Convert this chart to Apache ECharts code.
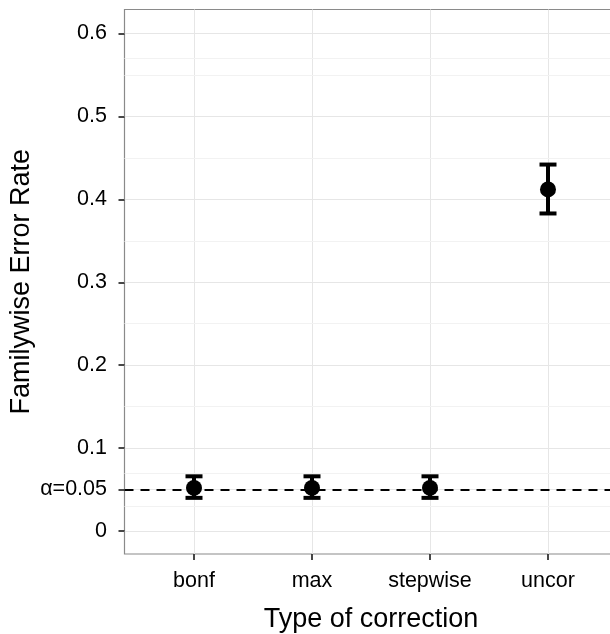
<!DOCTYPE html>
<html><head><meta charset="utf-8">
<script src="https://cdn.jsdelivr.net/npm/echarts@6/dist/echarts.min.js"></script>
<style>html,body{margin:0;padding:0;background:#fff}#c{width:610px;height:634px}</style>
</head><body><div id="c"></div>
<script>
const categories = ['bonf', 'max', 'stepwise', 'uncor'];
const rateMean  = [0.052, 0.052, 0.052, 0.412];
const rateLower = [0.040, 0.040, 0.040, 0.383];
const rateUpper = [0.066, 0.066, 0.066, 0.442];
const alphaLevel = 0.05;
const yTickValues = [0, 0.05, 0.1, 0.2, 0.3, 0.4, 0.5, 0.6];
const yTickLabels = ['0', 'α=0.05', '0.1', '0.2', '0.3', '0.4', '0.5', '0.6'];
const yMinorGrid = [0.025, 0.075, 0.15, 0.25, 0.35, 0.45, 0.55, 0.575];

const xPos = categories.map((c, i) => i + 1);
const FONT = 'Liberation Sans, Arial, Helvetica, sans-serif';

const chart = echarts.init(document.getElementById('c'), null, {renderer: 'canvas'});
chart.setOption({
  animation: false,
  backgroundColor: '#fff',
  grid: {
    left: 124.5, top: 9.5, right: -7.5, bottom: 80,
    show: true, borderColor: '#8a8a8a', borderWidth: 1.2, backgroundColor: 'transparent',
    containLabel: false, outerBoundsMode: 'none'
  },
  xAxis: {
    type: 'value', min: 0.411, max: 4.589,
    name: 'Type of correction', nameLocation: 'middle', nameGap: 52, nameMoveOverlap: false,
    nameTextStyle: {fontFamily: FONT, fontSize: 27, color: '#000'},
    axisLine: {show: false, onZero: false},
    axisTick: {show: true, customValues: xPos, length: 6, lineStyle: {color: '#333', width: 1.8}},
    axisLabel: {
      customValues: xPos, margin: 16.5, fontFamily: FONT, fontSize: 21.5, color: '#000',
      formatter: v => categories[Math.round(v) - 1] || ''
    },
    splitLine: {show: true, lineStyle: {color: '#e6e6e6', width: 1}}
  },
  yAxis: {
    type: 'value', min: -0.0277, max: 0.629,
    name: 'Familywise Error Rate', nameLocation: 'middle', nameGap: 89, nameRotate: 90,
    nameMoveOverlap: false,
    nameTextStyle: {fontFamily: FONT, fontSize: 27, color: '#000'},
    axisLine: {show: false, onZero: false},
    axisTick: {show: true, customValues: yTickValues, length: 6, lineStyle: {color: '#333', width: 1.8}},
    axisLabel: {
      customValues: yTickValues, margin: 17.5, fontFamily: FONT, fontSize: 21.5, color: '#000',
      formatter: v => {
        const i = yTickValues.findIndex(t => Math.abs(t - v) < 1e-9);
        return i >= 0 ? yTickLabels[i] : '';
      }
    },
    splitLine: {show: true, lineStyle: {color: '#e6e6e6', width: 1}}
  },
  series: [
    {
      type: 'line', data: [], silent: true, z: 1,
      markLine: {
        silent: true, symbol: 'none', label: {show: false}, animation: false,
        lineStyle: {color: '#f2f2f2', width: 1, type: 'solid'},
        data: yMinorGrid.map(v => ({yAxis: v}))
      }
    },
    {
      type: 'line', data: [], silent: true, z: 3,
      markLine: {
        silent: true, symbol: 'none', label: {show: false}, animation: false,
        lineStyle: {color: '#000', width: 2, type: [9, 7]},
        data: [{yAxis: alphaLevel}]
      }
    },
    {
      type: 'custom', z: 4, silent: true,
      data: xPos.map((x, i) => [x, rateLower[i], rateUpper[i]]),
      renderItem: (params, api) => {
        const x = api.value(0);
        const lo = api.coord([x, api.value(1)]);
        const hi = api.coord([x, api.value(2)]);
        const hw = 8.5;
        const st = {stroke: '#000', lineWidth: 4};
        return {
          type: 'group',
          children: [
            {type: 'line', shape: {x1: lo[0], y1: lo[1], x2: hi[0], y2: hi[1]}, style: st},
            {type: 'line', shape: {x1: lo[0] - hw, y1: lo[1], x2: lo[0] + hw, y2: lo[1]}, style: st},
            {type: 'line', shape: {x1: hi[0] - hw, y1: hi[1], x2: hi[0] + hw, y2: hi[1]}, style: st}
          ]
        };
      }
    },
    {
      type: 'scatter', z: 5, silent: true,
      symbol: 'circle', symbolSize: 16,
      itemStyle: {color: '#000', opacity: 1},
      data: xPos.map((x, i) => [x, rateMean[i]])
    }
  ]
});
</script>
</body></html>
